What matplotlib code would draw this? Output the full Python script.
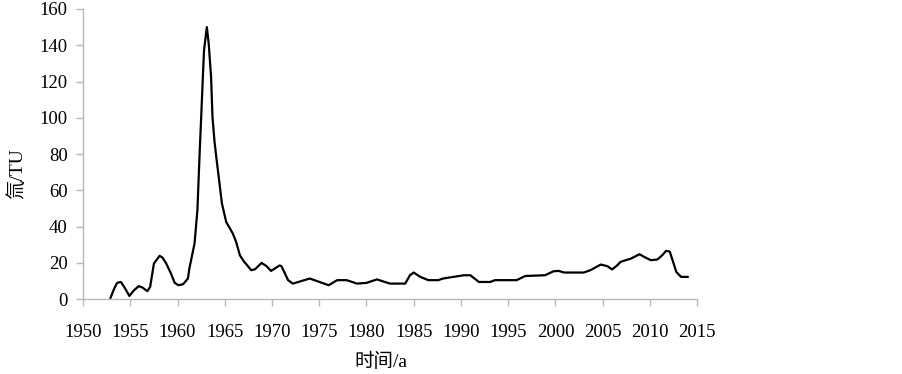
import matplotlib
matplotlib.use('Agg')
import matplotlib.pyplot as plt

plt.rcParams['font.family'] = ['Liberation Serif', 'Noto Sans CJK SC']

# tritium record
years = [1952.9, 1953.3, 1953.6, 1954.0, 1954.35, 1954.9, 1955.4, 1955.9, 1956.3, 1956.8,
         1957.1, 1957.5, 1958.1, 1958.4, 1958.8, 1959.3, 1959.7, 1960.1, 1960.6, 1961.1,
         1961.25, 1961.8, 1962.1, 1962.2, 1962.35, 1962.5, 1962.7, 1962.8, 1962.95, 1963.1,
         1963.3, 1963.55, 1963.7, 1963.9, 1964.1, 1964.4, 1964.7, 1965.15, 1965.85, 1966.2,
         1966.6, 1967.0, 1967.8, 1968.2, 1968.9, 1969.4, 1969.9, 1970.8, 1971.0, 1971.7,
         1972.2, 1974.0, 1976.0, 1976.9, 1977.9, 1979.0, 1980.0, 1981.1, 1982.5, 1984.1,
         1984.6, 1985.0, 1985.7, 1986.55, 1987.6, 1988.1, 1989.2, 1990.3, 1991.0, 1991.9,
         1993.1, 1993.6, 1995.9, 1996.8, 1998.9, 1999.8, 2000.35, 2000.9, 2003.0, 2003.7,
         2004.8, 2005.5, 2006.0, 2006.55, 2006.9, 2008.0, 2008.9, 2009.4, 2010.1, 2010.8,
         2011.3, 2011.7, 2012.1, 2012.4, 2012.8, 2013.3, 2014.0]
tritium = [0.7, 5.9, 9.0, 9.5, 6.8, 1.8, 5.0, 7.2, 6.4, 4.4,
           6.8, 19.7, 23.9, 23.0, 19.7, 14.2, 9.0, 7.7, 8.3, 11.4,
           16.9, 30.7, 49.0, 62.0, 82.0, 100.0, 125.0, 137.0, 143.6, 150.0,
           140.9, 122.5, 100.4, 87.6, 78.4, 65.6, 52.7, 42.6, 36.2, 31.6,
           24.2, 21.0, 16.0, 16.5, 20.0, 18.3, 15.6, 18.6, 18.2, 10.5,
           8.6, 11.4, 7.7, 10.5, 10.5, 8.6, 9.0, 10.9, 8.6, 8.6,
           13.2, 14.7, 12.3, 10.5, 10.5, 11.4, 12.3, 13.2, 13.2, 9.5,
           9.5, 10.5, 10.5, 12.8, 13.2, 15.4, 15.6, 14.7, 14.7, 16.0,
           19.1, 18.2, 16.4, 18.7, 20.6, 22.4, 24.8, 23.3, 21.5, 21.9,
           24.2, 26.6, 26.3, 21.5, 15.0, 12.3, 12.3]

x_ticks = list(range(1950, 2016, 5))
y_ticks = list(range(0, 161, 20))

fig = plt.figure(figsize=(9.03, 3.74), dpi=100)
ax = fig.add_axes([0.092, 0.2, 0.68, 0.776])

ax.plot(years, tritium, color='black', lw=1.6)

ax.set_xlim(1950, 2015)
ax.set_ylim(0, 160)
ax.set_xticks(x_ticks)
ax.set_yticks(y_ticks)

axis_grey = '#b8b8b8'
for side in ('top', 'right'):
    ax.spines[side].set_visible(False)
for side in ('left', 'bottom'):
    ax.spines[side].set_color(axis_grey)
    ax.spines[side].set_linewidth(1.0)
ax.tick_params(axis='both', colors=axis_grey, labelcolor='black', labelsize=13.5,
               length=5, width=1.0, direction='out')
ax.tick_params(axis='x', pad=13)
ax.tick_params(axis='y', pad=6)

fig.text(0.019, 0.535, '氚/TU', rotation=90, ha='center', va='center', fontsize=14)
fig.text(0.422, 0.032, '时间/a', ha='center', va='center', fontsize=14)

fig.savefig('out.png', dpi=100)
